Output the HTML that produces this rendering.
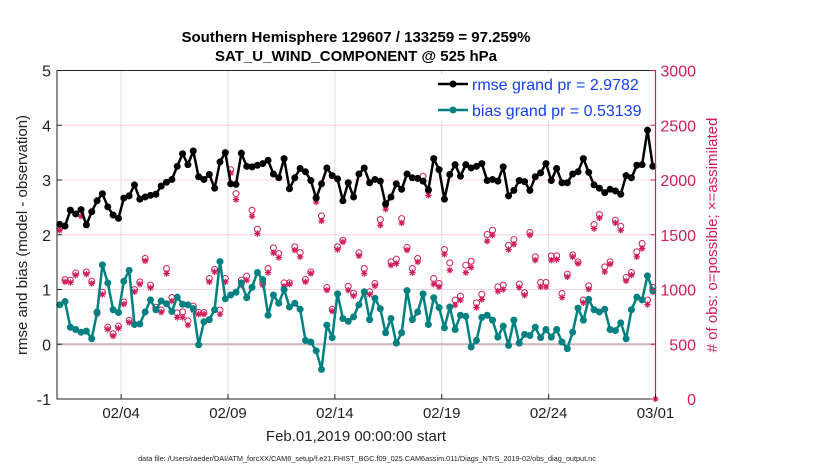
<!DOCTYPE html>
<html><head><meta charset="utf-8"><style>
html,body{margin:0;padding:0;background:#fff;}
svg{display:block;font-family:"Liberation Sans",Arial,sans-serif;}
</style></head><body>
<svg id="chart" width="830" height="470" viewBox="0 0 830 470">
<text x="356" y="42" text-anchor="middle" font-size="15" font-weight="bold">Southern Hemisphere 129607 / 133259 = 97.259%</text>
<text x="356" y="61" text-anchor="middle" font-size="15" font-weight="bold">SAT_U_WIND_COMPONENT @ 525 hPa</text>
<g id="grid"></g>
<g id="obs"></g>
<g id="series"></g>
<rect x="57" y="70.5" width="598.5" height="328.5" fill="none" stroke="#222" stroke-width="1"/>
<line x1="655.5" y1="70.5" x2="655.5" y2="399" stroke="#d01c5c" stroke-width="1.2"/>
<g id="axes"></g>
<text transform="translate(27,235) rotate(-90)" text-anchor="middle" font-size="15" fill="#222">rmse and bias (model - observation)</text>
<text transform="translate(717,235) rotate(-90)" text-anchor="middle" font-size="15" fill="#d01c5c"># of obs: o=possible; ×=assimilated</text>
<text x="356" y="441" text-anchor="middle" font-size="15" fill="#222">Feb.01,2019 00:00:00 start</text>
<text x="367" y="461" text-anchor="middle" font-size="7.3" fill="#222">data file: /Users/raeder/DAI/ATM_forcXX/CAM6_setup/f.e21.FHIST_BGC.f09_025.CAM6assim.011/Diags_NTrS_2019-02/obs_diag_output.nc</text>
<g>
<rect x="432" y="74" width="214" height="46" fill="#fff"/>
<line x1="438" y1="84" x2="468" y2="84" stroke="#000" stroke-width="2.5"/>
<circle cx="453" cy="84" r="3.5" fill="#000"/>
<text x="472" y="90" font-size="16" fill="#1240f0">rmse grand pr = 2.9782</text>
<line x1="438" y1="110" x2="468" y2="110" stroke="#008080" stroke-width="2.5"/>
<circle cx="453" cy="110" r="3.5" fill="#008080"/>
<text x="472" y="116" font-size="16" fill="#1240f0">bias grand pr = 0.53139</text>
</g>
</svg>
<script>
const rmse = [2.19,2.16,2.45,2.38,2.46,2.18,2.42,2.62,2.75,2.51,2.36,2.30,2.67,2.71,2.91,2.65,2.69,2.72,2.74,2.89,2.96,3.01,3.25,3.48,3.28,3.53,3.06,3.01,3.10,2.85,3.33,3.50,2.93,2.92,3.49,3.25,3.24,3.27,3.30,
3.36,3.11,3.04,3.39,2.84,3.04,3.21,3.15,2.99,2.67,2.93,3.22,3.08,3.02,2.62,2.95,2.69,3.11,3.22,2.95,3.01,2.98,2.56,2.69,2.93,2.83,3.11,3.04,3.03,2.98,2.82,3.39,3.19,2.65,3.10,3.28,3.07,
3.28,3.22,3.25,3.30,2.99,3.01,2.98,3.24,2.71,2.81,2.99,2.97,2.81,3.06,3.13,3.30,2.99,3.21,2.95,2.95,3.11,3.15,3.39,3.14,2.91,2.85,2.77,2.83,2.80,2.74,3.08,3.04,3.27,3.28,3.91,3.25];
const bias = [0.72,0.78,0.31,0.27,0.22,0.24,0.10,0.58,1.45,1.12,0.63,0.58,1.15,1.35,0.36,0.37,0.59,0.81,0.63,0.79,0.74,0.60,0.86,0.73,0.72,0.65,-0.01,0.41,0.45,0.63,1.51,0.83,0.90,0.95,1.12,0.85,1.04,1.31,1.18,
0.53,0.90,0.75,1.00,0.68,0.75,0.64,0.07,0.04,-0.12,-0.46,0.35,0.12,0.92,0.47,0.42,0.50,0.72,0.96,0.45,0.84,0.65,0.21,0.47,0.02,0.21,0.98,0.45,0.59,0.92,0.36,0.85,0.67,0.30,0.68,0.27,0.53,
0.51,-0.05,0.07,0.49,0.53,0.44,0.13,0.33,-0.02,0.44,0.02,0.18,0.16,0.31,0.12,0.27,0.13,0.27,0.04,-0.08,0.22,0.66,0.44,0.82,0.63,0.59,0.64,0.27,0.25,0.39,0.10,0.63,0.86,0.81,1.25,0.98];
const assimilated = [1541,1070,1064,1131,1669,1140,1055,775,955,636,575,645,866,699,979,1049,1261,1015,818,793,1146,894,745,745,675,812,775,775,1070,1161,775,1070,2064,1821,1040,1085,1669,1511,1040,
1155,1334,1292,1030,1049,1359,1298,1070,1146,1799,1626,994,802,1365,1434,994,942,1307,1146,955,1033,1587,1733,1222,1237,1608,1359,1155,1252,1988,1860,1049,1024,1322,1176,857,903,
1155,1201,836,909,1441,1496,985,1000,1365,1413,1018,948,1496,1268,1024,1024,1268,1274,927,1115,1298,1237,878,1003,1556,1653,1161,1231,1608,1541,1079,1131,1298,1374,863,979];
const possible = [1561,1090,1084,1151,1688,1160,1075,795,975,656,595,665,886,719,999,1069,1283,1040,838,813,1192,927,787,796,714,848,790,790,1100,1183,812,1100,2094,1876,1085,1122,1724,1550,1061,
1192,1380,1328,1061,1061,1389,1337,1091,1161,1839,1672,1018,818,1389,1450,1030,964,1334,1192,979,1055,1638,1785,1252,1277,1647,1383,1192,1283,2034,1906,1101,1055,1365,1243,903,939,
1222,1258,878,957,1502,1541,1024,1040,1404,1456,1049,970,1520,1298,1064,1064,1307,1307,964,1140,1316,1252,903,1033,1593,1684,1207,1252,1632,1578,1110,1155,1344,1420,903,1018];
const xTickLabels = ["02/04","02/09","02/14","02/19","02/24","03/01"];
const xTickDays = [4,9,14,19,24,29];
const yTicks = [-1,0,1,2,3,4,5];
const rTicks = [0,500,1000,1500,2000,2500,3000];

const NS="http://www.w3.org/2000/svg";
const X0=57, X1=655.5, Y0=399, Y1=70.5;
const dayMin=1, dayMax=29;
function xDay(d){return X0+(d-dayMin)/(dayMax-dayMin)*(X1-X0);}
function xIdx(i){return xDay(1.125+0.25*i);}
function yL(v){return Y0-(v+1)/6*(Y0-Y1);}
function yR(v){return Y0-v/3000*(Y0-Y1);}
function mk(tag,attrs,parent){const e=document.createElementNS(NS,tag);for(const k in attrs)e.setAttribute(k,attrs[k]);parent.appendChild(e);return e;}

const grid=document.getElementById('grid'), axes=document.getElementById('axes');
xTickDays.forEach((d,i)=>{
  const x=xDay(d);
  if(i<xTickDays.length-1){
    const g=mk('line',{x1:x,x2:x,y1:Y1,y2:Y0,stroke:'#ddd','stroke-width':1},grid);
    
    
  }
  const t=mk('line',{x1:x,x2:x,y1:Y0,y2:Y0-5,stroke:'#222'},axes);
  
  
  const l=mk('text',{x:x,y:Y0+19,'text-anchor':'middle','font-size':15,fill:'#222'},axes);
  l.textContent=xTickLabels[i];
  
  
});
rTicks.forEach(v=>{
  const y=yR(v);
  if(v>0&&v<3000){
    const g=mk('line',{x1:X0,x2:X1,y1:y,y2:y,stroke:v===500?'#c9b4bc':'#f6d4df','stroke-width':v===500?2:1},grid);
    
    
  }
  const t=mk('line',{x1:X1,x2:X1-5,y1:y,y2:y,stroke:'#d01c5c'},axes);
  
  
  const l=mk('text',{x:696,y:y+6,'text-anchor':'end','font-size':16,fill:'#d01c5c'},axes);
  l.textContent=v;
  
  
});
yTicks.forEach(v=>{
  const y=yL(v);
  const t=mk('line',{x1:X0,x2:X0+5,y1:y,y2:y,stroke:'#222'},axes);
  
  
  const l=mk('text',{x:51,y:y+6,'text-anchor':'end','font-size':16,fill:'#222'},axes);
  l.textContent=v;
  
  
});

const obsG=document.getElementById('obs');
function star(cx,cy,r,parent){
  const g=mk('g',{stroke:'#d01c5c','stroke-width':1.2},parent);
  for(let a=0;a<180;a+=45){const rad=a*Math.PI/180;mk('line',{x1:cx-r*Math.cos(rad),y1:cy-r*Math.sin(rad),x2:cx+r*Math.cos(rad),y2:cy+r*Math.sin(rad)},g);}
  return g;
}
possible.forEach((v,i)=>{
  const c=mk('circle',{cx:xIdx(i),cy:yR(v),r:3,fill:'none',stroke:'#d01c5c','stroke-width':1},obsG);
  
  
});
assimilated.forEach((v,i)=>{
  const s=star(xIdx(i),yR(v),3.2,obsG);
  
  
});
const endStar=star(X1,Y0,3,obsG);



const ser=document.getElementById('series');
function drawSeries(arr,color,name){
  const pts=arr.map((v,i)=>xIdx(i).toFixed(1)+','+yL(v).toFixed(1)).join(' ');
  const pl=mk('polyline',{points:pts,fill:'none',stroke:color,'stroke-width':2.5,'stroke-linejoin':'round'},ser);
  
  
  arr.forEach((v,i)=>{
    const c=mk('circle',{cx:xIdx(i),cy:yL(v),r:3.5,fill:color},ser);
    
    
  });
}
drawSeries(bias,'#008080','bias');
drawSeries(rmse,'#000000','rmse');
</script>
</body></html>
